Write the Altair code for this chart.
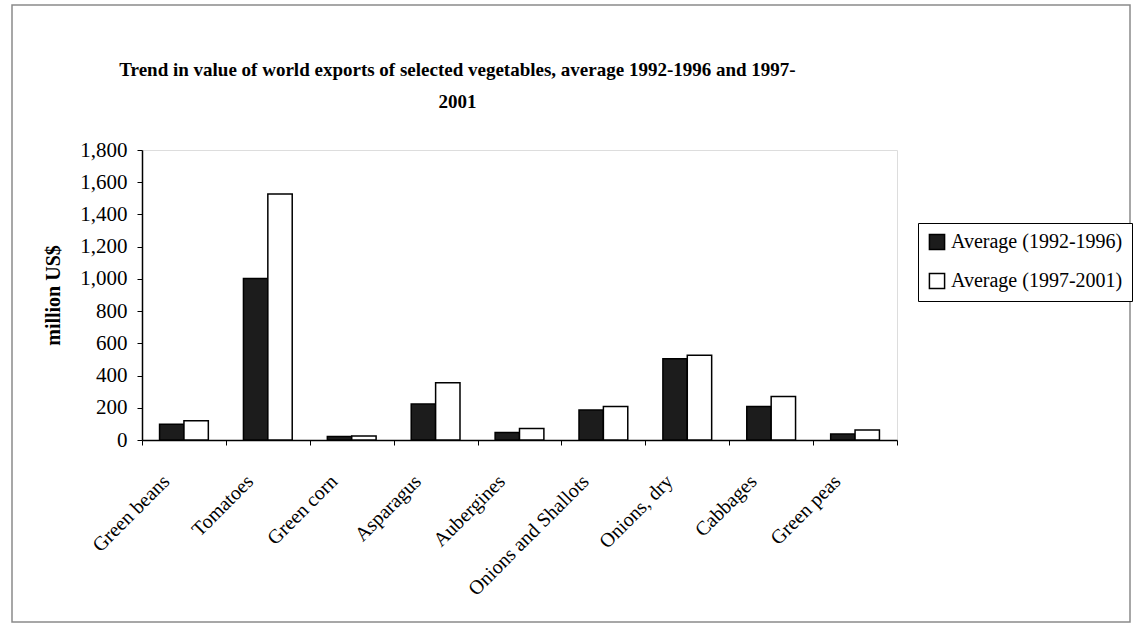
import altair as alt
import pandas as pd

categories = ["Green beans", "Tomatoes", "Green corn", "Asparagus", "Aubergines",
              "Onions and Shallots", "Onions, dry", "Cabbages", "Green peas"]
series_names = ["Average (1992-1996)", "Average (1997-2001)"]
avg_1992_1996 = [97, 1002, 22, 223, 47, 186, 505, 208, 37]
avg_1997_2001 = [119, 1527, 25, 356, 72, 208, 526, 270, 62]
y_ticks = [0, 200, 400, 600, 800, 1000, 1200, 1400, 1600, 1800]

rows = []
for i, c in enumerate(categories):
    rows.append({"cat": c, "series": series_names[0], "value": avg_1992_1996[i]})
    rows.append({"cat": c, "series": series_names[1], "value": avg_1997_2001[i]})
df = pd.DataFrame(rows)

FONT = "Liberation Serif"

bars = alt.Chart(df).mark_bar(stroke="black", strokeWidth=1.5).encode(
    x=alt.X("cat:N", sort=categories,
            scale=alt.Scale(paddingInner=0, paddingOuter=0),
            axis=alt.Axis(title=None, labelAngle=-45, labelAlign="right",
                          labelBaseline="middle", labelPadding=33, labelOffset=-18,
                          tickBand="extent", tickSize=5, labelFont=FONT,
                          labelFontSize=20, labelColor="black", labelLimit=400,
                          domainColor="black", tickColor="black", domainWidth=1.5)),
    xOffset=alt.XOffset("series:N", sort=series_names,
                        scale=alt.Scale(paddingInner=0, paddingOuter=0.72)),
    y=alt.Y("value:Q", scale=alt.Scale(domain=[0, 1800], nice=False),
            axis=alt.Axis(title="million US$", values=y_ticks, format=",.0f",
                          grid=False, tickSize=5, labelPadding=10,
                          labelFont=FONT, labelFontSize=21, labelColor="black",
                          titleFont=FONT, titleFontSize=20, titleFontWeight="bold",
                          titleColor="black", titlePadding=16,
                          domainColor="black", tickColor="black", domainWidth=1.5)),
    color=alt.Color("series:N", sort=series_names,
                    scale=alt.Scale(domain=series_names, range=["#1c1c1c", "#ffffff"]),
                    legend=alt.Legend(title=None, orient="none", legendX=776, legendY=73,
                                      symbolType="square", symbolSize=230,
                                      symbolStrokeColor="black", symbolStrokeWidth=1.5,
                                      labelFont=FONT, labelFontSize=20, labelColor="black",
                                      labelLimit=400,
                                      rowPadding=17, padding=9, labelOffset=4,
                                      strokeColor="black", fillColor="white")),
)

frame = alt.Chart(alt.Data(values=[{"a": 1}])).mark_rect(
    fill=None, stroke="#8a8a8a", strokeWidth=1.5
).encode(
    x=alt.value(-130), x2=alt.value(988), y=alt.value(-145), y2=alt.value(472)
)

chart = alt.layer(frame, bars).properties(
    width=755, height=290,
    title=alt.TitleParams(
        ["Trend in value of world exports of selected vegetables, average 1992-1996 and 1997-",
         "2001"],
        font=FONT, fontSize=19, fontWeight="bold", color="black",
        anchor="middle", dx=-62, offset=-108, lineHeight=32),
    autosize="none",
    padding={"left": 142, "top": 150, "right": 238, "bottom": 190},
).configure_view(stroke="black", strokeWidth=1.5).configure(background="white")

chart.save("out.html", embed_options={"renderer": "svg", "actions": False})
